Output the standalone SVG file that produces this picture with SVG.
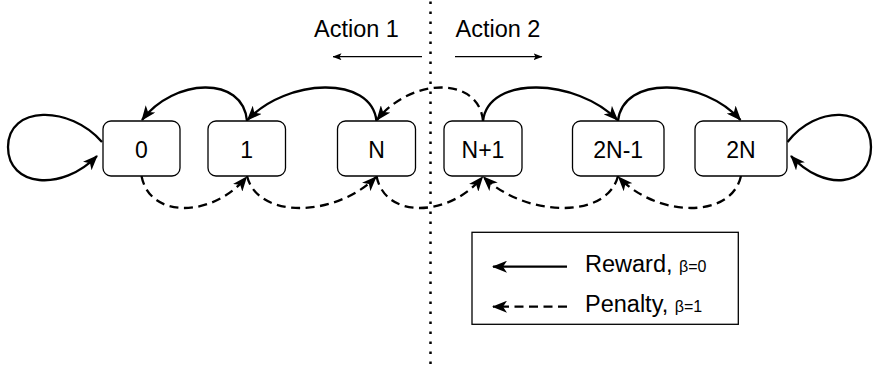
<svg xmlns="http://www.w3.org/2000/svg" width="873" height="371" viewBox="0 0 873 371">
  <style>
    .box { fill: #ffffff; stroke: #000000; stroke-width: 1.3; }
    .lbl { font-family: "Liberation Sans", Arial, sans-serif; font-size: 23px; fill: #000000; text-anchor: middle; }
    .txt { font-family: "Liberation Sans", Arial, sans-serif; font-size: 23.5px; fill: #000000; }
    .small { font-size: 16px; }
    .edge { fill: none; stroke: #000000; stroke-width: 2.3; }
    .solid { marker-end: url(#head); }
    .dash { stroke-dasharray: 9 5.5; marker-end: url(#head); }
    .thin { fill: none; stroke: #000000; stroke-width: 1.3; marker-end: url(#smallhead); }
  </style>
  <defs>
    <marker id="head" markerUnits="userSpaceOnUse" viewBox="0 0 15 12" markerWidth="15" markerHeight="12" refX="14" refY="6" orient="auto">
      <path d="M0,0 L15,6 L0,12 L4,6 z" fill="#000000" stroke="none"/>
    </marker>
    <marker id="smallhead" markerUnits="userSpaceOnUse" viewBox="0 0 9 7" markerWidth="9" markerHeight="7" refX="8.5" refY="3.5" orient="auto">
      <path d="M0,0 L9,3.5 L0,7 L2,3.5 z" fill="#000000" stroke="none"/>
    </marker>
  </defs>

  <!-- divider between the two action halves -->
  <line x1="430.5" y1="1.5" x2="430.5" y2="366" stroke="#000000" stroke-width="2.5" stroke-dasharray="2.5 7.5"/>

  <!-- action headings -->
  <g id="action1">
    <text class="txt" x="356.5" y="37" text-anchor="middle">Action 1</text>
    <path class="thin" d="M422,56.7 L333,56.7"/>
  </g>
  <g id="action2">
    <text class="txt" x="498" y="37" text-anchor="middle">Action 2</text>
    <path class="thin" d="M455,56.7 L542,56.7"/>
  </g>

  <!-- transitions -->
  <g id="connectors">
    <!-- reward / penalty arcs above the states -->
    <path class="edge solid" d="M247,121 C243,75 174,78 142,120"/>
    <path class="edge solid" d="M376.5,121 C371.3,75 287,78 247.5,120"/>
    <path class="edge dash" d="M483,121 C478.7,75 409.5,78 377,120"/>
    <path class="edge solid" d="M483,121 C488.4,75 576,78 617.5,120"/>
    <path class="edge solid" d="M618,121 C623,75 703,78 740.5,120"/>
    <!-- penalty arcs below the states -->
    <path class="edge dash" d="M141.5,176 C150,220 214,217 246.5,177"/>
    <path class="edge dash" d="M247,176 C258,220 336.4,217 376,177"/>
    <path class="edge dash" d="M376.5,176 C385,220 450,217 482.5,177"/>
    <path class="edge dash" d="M618,176 C607,220 525,217 483.5,177"/>
    <path class="edge dash" d="M741,176 C731,220 656,217 618.5,177"/>
    <!-- self loops on the end states -->
    <path class="edge solid" d="M102,142 C70,105 8,105 8,147 C8,187 62,192 97,156"/>
    <path class="edge solid" d="M787.5,142 C816,105 871,105 871,147 C871,187 824,192 791,156"/>
  </g>

  <!-- states -->
  <g id="s0">
    <rect class="box" x="103" y="121" width="77" height="55" rx="8"/>
    <text class="lbl" x="141.5" y="157.5">0</text>
  </g>
  <g id="s1">
    <rect class="box" x="208" y="121" width="77.5" height="55" rx="8"/>
    <text class="lbl" x="246.75" y="157.5">1</text>
  </g>
  <g id="sN">
    <rect class="box" x="337.5" y="121" width="78" height="55" rx="8"/>
    <text class="lbl" x="376.5" y="157.5">N</text>
  </g>
  <g id="sN1">
    <rect class="box" x="444" y="121" width="78" height="55" rx="8"/>
    <text class="lbl" x="483" y="157.5">N+1</text>
  </g>
  <g id="s2N1">
    <rect class="box" x="572.5" y="121" width="91.5" height="55" rx="8"/>
    <text class="lbl" x="618.25" y="157.5">2N-1</text>
  </g>
  <g id="s2N">
    <rect class="box" x="695" y="121" width="92" height="55" rx="8"/>
    <text class="lbl" x="741" y="157.5">2N</text>
  </g>

  <!-- legend -->
  <g id="legend">
    <rect x="472" y="232.3" width="266.3" height="92" fill="#ffffff" stroke="#000000" stroke-width="1.3"/>
    <path class="edge solid" d="M567,266.7 L493,266.7"/>
    <path class="edge dash" d="M567,306.7 L493,306.7"/>
    <text class="txt" x="585" y="272">Reward, <tspan class="small">β=0</tspan></text>
    <text class="txt" x="585" y="312">Penalty, <tspan class="small">β=1</tspan></text>
  </g>
</svg>
